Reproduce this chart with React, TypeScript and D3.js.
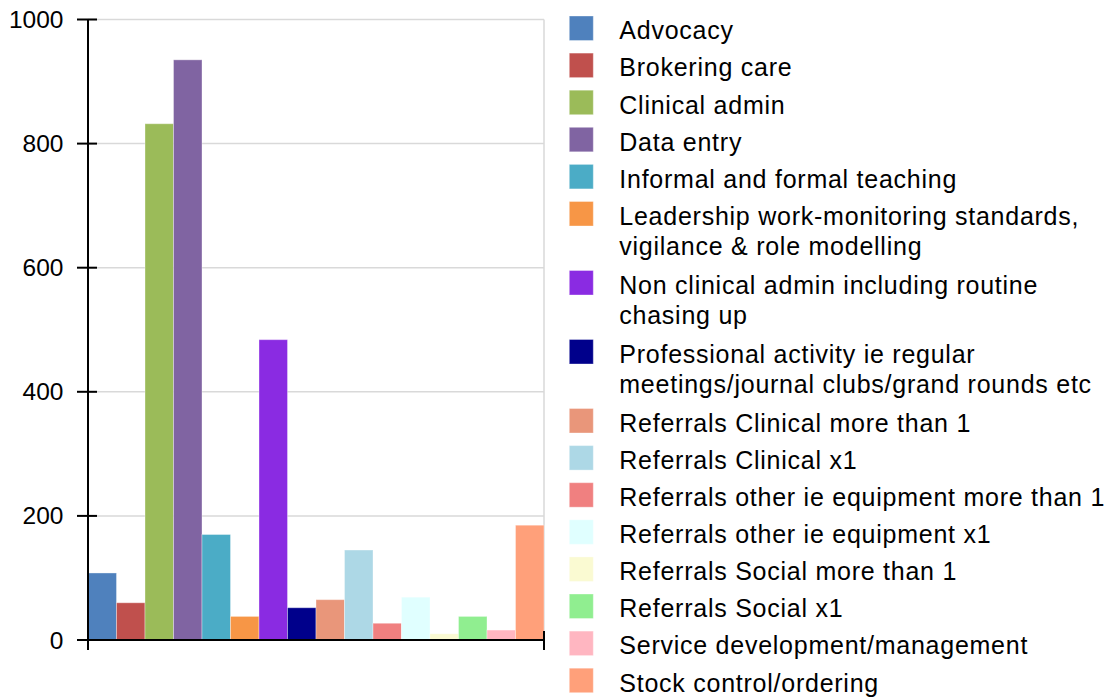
import React from "react";
import * as d3 from "d3";

const categories: string[] = [
  "Advocacy",
  "Brokering care",
  "Clinical admin",
  "Data entry",
  "Informal and formal teaching",
  "Leadership work-monitoring standards, vigilance & role modelling",
  "Non clinical admin including routine chasing up",
  "Professional activity ie regular meetings/journal clubs/grand rounds etc",
  "Referrals Clinical more than 1",
  "Referrals Clinical x1",
  "Referrals other ie equipment more than 1",
  "Referrals other ie equipment x1",
  "Referrals Social more than 1",
  "Referrals Social x1",
  "Service development/management",
  "Stock control/ordering",
];

const legendLines: string[][] = [
  ["Advocacy"],
  ["Brokering care"],
  ["Clinical admin"],
  ["Data entry"],
  ["Informal and formal teaching"],
  ["Leadership work-monitoring standards,", "vigilance & role modelling"],
  ["Non clinical admin including routine", "chasing up"],
  ["Professional activity ie regular", "meetings/journal clubs/grand rounds etc"],
  ["Referrals Clinical more than 1"],
  ["Referrals Clinical x1"],
  ["Referrals other ie equipment more than 1"],
  ["Referrals other ie equipment x1"],
  ["Referrals Social more than 1"],
  ["Referrals Social x1"],
  ["Service development/management"],
  ["Stock control/ordering"],
];

const values: number[] = [108, 60, 832, 935, 170, 38, 484, 52, 65, 145, 27, 69, 10, 38, 16, 185];

const colors: string[] = [
  "#4F81BD", "#C0504D", "#9BBB59", "#8064A2", "#4BACC6", "#F79646",
  "#8A2BE2", "#00008B", "#E9967A", "#ADD8E6", "#F08080", "#E0FFFF",
  "#FAFAD2", "#90EE90", "#FFB6C1", "#FFA07A",
];

const yTicks: number[] = [0, 200, 400, 600, 800, 1000];

const W = 1120;
const H = 699;
const FONT = "'Liberation Sans', Arial, sans-serif";

export default function App() {
  const x0 = 88, x1 = 544, yTop = 19.5, yBot = 640;
  const x = d3.scaleBand<number>().domain(d3.range(values.length)).range([x0, x1]).padding(0);
  const y = d3.scaleLinear().domain([0, 1000]).range([yBot, yTop]);

  // legend layout
  const lgX = 569.3, lgTextX = 619.3, lgY0 = 16, rowPitch = 37.1, extraLine = 31.9, lineGap = 30;
  const legendItems: { y: number; lines: string[]; color: string; key: string }[] = [];
  let cy = lgY0;
  legendLines.forEach((lines, i) => {
    legendItems.push({ y: cy, lines, color: colors[i], key: categories[i] });
    cy += rowPitch + (lines.length - 1) * extraLine;
  });

  return (
    <svg width={W} height={H} style={{ position: "absolute", left: 0, top: 0, background: "#fff" }} fontFamily={FONT}>
      <rect x={0} y={0} width={W} height={H} fill="#fff" />
      {/* gridlines */}
      {yTicks.filter((t) => t > 0).map((t) => (
        <line key={"g" + t} x1={x0} x2={x1} y1={y(t)} y2={y(t)} stroke="#d9d9d9" strokeWidth={1.5} />
      ))}
      <line x1={x1} x2={x1} y1={yTop} y2={yBot} stroke="#d9d9d9" strokeWidth={1.5} />
      {/* bars */}
      {values.map((v, i) => (
        <rect
          key={"b" + i}
          x={x(i)!}
          y={y(v)}
          width={x.bandwidth()}
          height={yBot - y(v)}
          fill={colors[i]}
          stroke="#ffffff"
          strokeOpacity={0.35}
          strokeWidth={1}
        />
      ))}
      {/* axes */}
      <line x1={x0} x2={x0} y1={yTop} y2={650} stroke="#000" strokeWidth={2} />
      <line x1={77} x2={x1} y1={yBot} y2={yBot} stroke="#000" strokeWidth={2} />
      <line x1={x1} x2={x1} y1={631} y2={650} stroke="#000" strokeWidth={2} />
      {yTicks.map((t) => (
        <g key={"t" + t}>
          <line x1={77} x2={97} y1={y(t)} y2={y(t)} stroke="#000" strokeWidth={2} />
          <text x={63.5} y={y(t)} dy="0.35em" textAnchor="end" fontSize={24.5} fill="#000">
            {t}
          </text>
        </g>
      ))}
      {/* legend */}
      {legendItems.map((it) => (
        <g key={it.key}>
          <rect x={lgX} y={it.y} width={24} height={24.5} fill={it.color} stroke="#fff" strokeOpacity={0.35} />
          {it.lines.map((ln, j) => (
            <text
              key={j}
              x={lgTextX}
              y={it.y + 23.3 + j * lineGap}
              fontSize={25}
              letterSpacing={0.75}
              fill="#000"
            >
              {ln}
            </text>
          ))}
        </g>
      ))}
    </svg>
  );
}
